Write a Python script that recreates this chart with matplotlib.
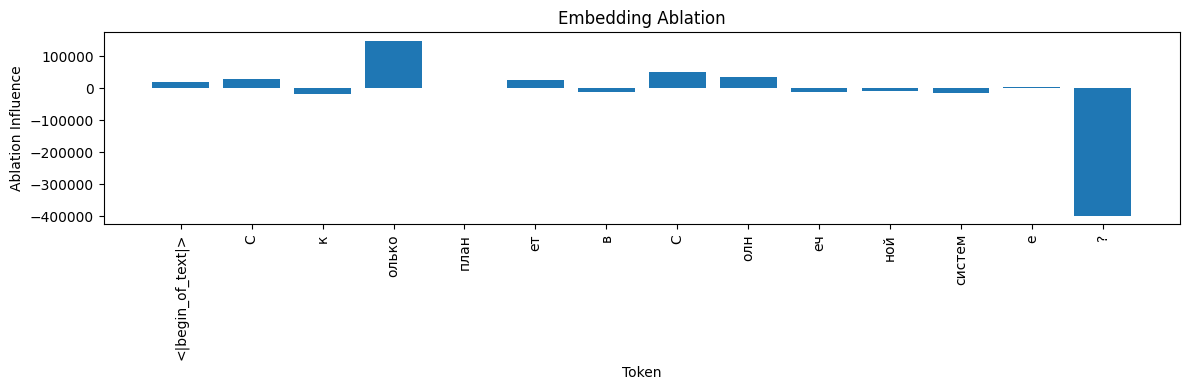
import matplotlib
matplotlib.use("Agg")
import matplotlib.pyplot as plt

tokens = ["<|begin_of_text|>", "С", "к", "олько", "план", "ет", "в", "С",
          "олн", "еч", "ной", "систем", "е", "?"]
influence = [18800, 28000, -17700, 147000, 300, 25000, -12500, 50000,
             34400, -12500, -9400, -15600, 2500, -398000]

fig, ax = plt.subplots(figsize=(12, 4), dpi=100)
ax.bar(range(len(tokens)), influence)
ax.set_xticks(range(len(tokens)))
ax.set_xticklabels(tokens, rotation=90)
ax.set_xlabel("Token")
ax.set_ylabel("Ablation Influence")
ax.set_title("Embedding Ablation")
plt.tight_layout()
plt.savefig("out.png", dpi=100, bbox_inches="tight")
